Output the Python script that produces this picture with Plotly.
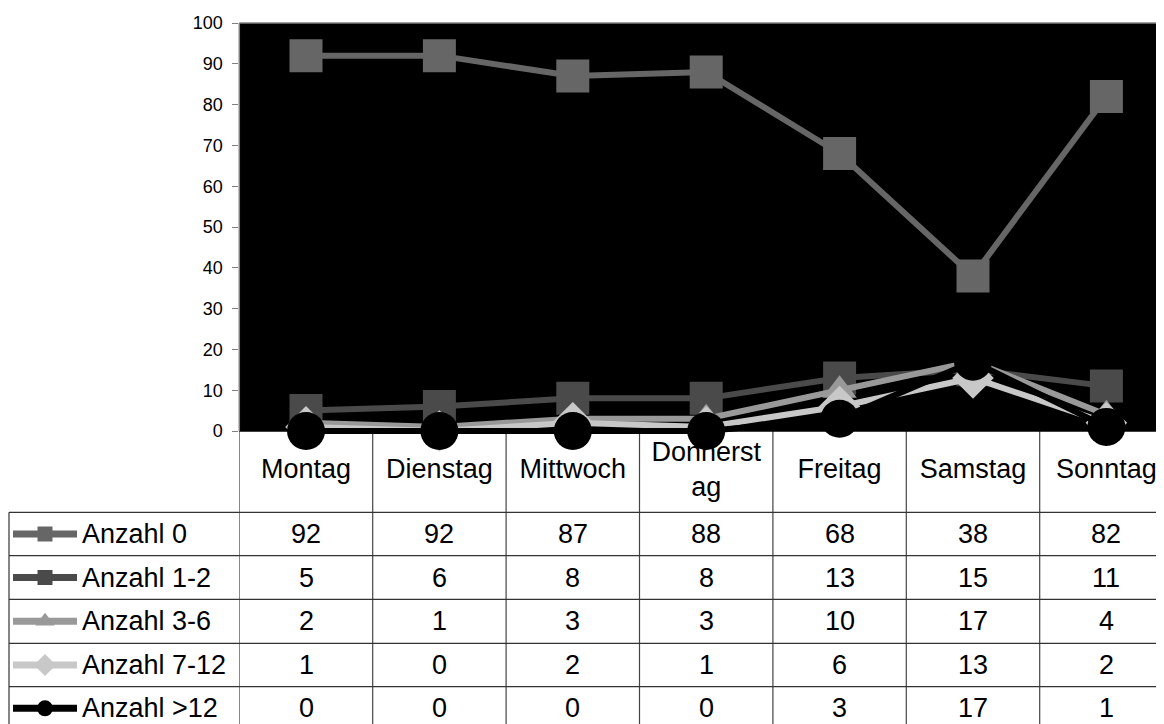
import plotly.graph_objects as go

# ---------------- data ----------------
days = ["Montag", "Dienstag", "Mittwoch", "Donnerstag", "Freitag", "Samstag", "Sonntag"]
day_labels = ["Montag", "Dienstag", "Mittwoch", "Donnerst<br>ag", "Freitag", "Samstag", "Sonntag"]
series_names = ["Anzahl 0", "Anzahl 1-2", "Anzahl 3-6", "Anzahl 7-12", "Anzahl >12"]
anzahl_0 = [92, 92, 87, 88, 68, 38, 82]
anzahl_1_2 = [5, 6, 8, 8, 13, 15, 11]
anzahl_3_6 = [2, 1, 3, 3, 10, 17, 4]
anzahl_7_12 = [1, 0, 2, 1, 6, 13, 2]
anzahl_gt12 = [0, 0, 0, 0, 3, 17, 1]
y_ticks = [0, 10, 20, 30, 40, 50, 60, 70, 80, 90, 100]
title_text = "(Tage der Woche)"

series_values = [anzahl_0, anzahl_1_2, anzahl_3_6, anzahl_7_12, anzahl_gt12]

# ---------------- styles / layout (screen pixels) ----------------
colors = ["#666666", "#4a4a4a", "#999999", "#c8c8c8", "#000000"]
symbols = ["square", "square", "triangle-up", "diamond", "circle"]
msizes = [33, 33, 30, 32, 38]
leg_msizes = [15, 15, 17, 17, 16]
FONT = "Liberation Sans, Arial, sans-serif"
TFS = 27

SW, SH = 1164, 724          # screen
OFF = 8                     # page body margin
W, H = SW - OFF, SH - OFF   # figure size

plot_left, plot_top, plot_bottom = 239.3, 23.0, 431.0
col_w = 133.4
x_max = -0.5 + (SW - plot_left) / col_w
px_per_unit = (plot_bottom - plot_top) / 100.0

header_bottom = 512.3
row_lines = [header_bottom, 555.7, 599.3, 643.3, 686.7, 730.0]
row_centers = [(row_lines[i] + row_lines[i + 1]) / 2 for i in range(5)]
table_left = 9.0
y_min = -(header_bottom - plot_bottom) / px_per_unit
header_center_units = -((plot_bottom + header_bottom) / 2 - plot_bottom) / px_per_unit
SCR_BOTTOM = OFF + H


def fy(sy):
    """screen y -> paper fraction"""
    return (H - (sy - OFF)) / H


fig = go.Figure()

# header texts (drawn under the markers, as in the reference)
fig.add_trace(go.Scatter(
    x=days, y=[header_center_units] * len(days), mode="text", text=day_labels,
    textposition="middle center", textfont=dict(family=FONT, size=TFS, color="#000"),
    cliponaxis=False, showlegend=False, hoverinfo="skip", xaxis="x", yaxis="y",
))

for name, vals, c, s, ms in zip(series_names, series_values, colors, symbols, msizes):
    fig.add_trace(go.Scatter(
        x=days, y=vals, name=name, mode="lines+markers",
        line=dict(color=c, width=6),
        marker=dict(symbol=s, size=ms, color=c, line=dict(width=0)),
        cliponaxis=False, showlegend=False, xaxis="x", yaxis="y",
        hoverinfo="x+y+name",
    ))

# legend keys inside the data table
for i, (c, s, ms) in enumerate(zip(colors, symbols, leg_msizes)):
    yc = row_centers[i]
    fig.add_trace(go.Scatter(
        x=[13, 77], y=[yc, yc], mode="lines",
        line=dict(color=c, width=7), showlegend=False, hoverinfo="skip",
        xaxis="x2", yaxis="y2",
    ))
    fig.add_trace(go.Scatter(
        x=[45], y=[yc], mode="markers",
        marker=dict(symbol=s, size=ms, color=c, line=dict(width=0)),
        showlegend=False, hoverinfo="skip", xaxis="x2", yaxis="y2",
    ))

shapes = []
shapes.append(dict(type="rect", xref="x domain", yref="y", x0=0, x1=1, y0=0, y1=100,
                   fillcolor="#000000", line=dict(width=0), layer="below"))
shapes.append(dict(type="line", xref="x2", yref="y2", x0=plot_left, x1=SW, y0=plot_top, y1=plot_top,
                   line=dict(color="#808080", width=1.5)))
shapes.append(dict(type="line", xref="x2", yref="y2", x0=plot_left, x1=plot_left, y0=plot_top, y1=plot_bottom,
                   line=dict(color="#808080", width=1.5)))
shapes.append(dict(type="line", xref="x2", yref="y2", x0=plot_left, x1=SW, y0=plot_bottom, y1=plot_bottom,
                   line=dict(color="#000000", width=1.5), layer="below"))
for yl in row_lines[:-1]:
    shapes.append(dict(type="line", xref="x2", yref="y2", x0=table_left, x1=SW, y0=yl, y1=yl,
                       line=dict(color="#333333", width=1.2), layer="below"))
shapes.append(dict(type="line", xref="x2", yref="y2", x0=table_left, x1=table_left,
                   y0=header_bottom, y1=SH, line=dict(color="#333333", width=1.2), layer="below"))
for k in range(len(days)):
    shapes.append(dict(type="line", xref="x", yref="y2", x0=k - 0.5, x1=k - 0.5,
                       y0=plot_bottom, y1=SH, line=dict(color="#444444", width=1.2), layer="below"))

annotations = []
for i, (name, vals) in enumerate(zip(series_names, series_values)):
    annotations.append(dict(x=80, y=row_centers[i], xref="x2", yref="y2", text=name,
                            showarrow=False, xanchor="left", yanchor="middle",
                            font=dict(family=FONT, size=TFS, color="#000")))
    for d, v in zip(days, vals):
        annotations.append(dict(x=d, y=row_centers[i], xref="x", yref="y2", text=str(v),
                                showarrow=False, xanchor="center", yanchor="middle",
                                font=dict(family=FONT, size=TFS, color="#000")))
annotations.append(dict(x=583, y=10, xref="x2", yref="y2", text="<b>" + title_text + "</b>",
                        showarrow=False, xanchor="center", yanchor="bottom",
                        font=dict(family=FONT, size=25, color="#000")))

fig.update_layout(
    template="none",
    width=W, height=H, autosize=False,
    margin=dict(l=0, r=0, t=0, b=0, pad=0, autoexpand=False),
    paper_bgcolor="#ffffff", plot_bgcolor="rgba(0,0,0,0)",
    showlegend=False,
    xaxis=dict(domain=[(plot_left - OFF) / W, 1], range=[-0.5, x_max], type="category",
               categoryorder="array", categoryarray=days, automargin=False,
               showticklabels=False, showgrid=False, zeroline=False, showline=False,
               ticks="", anchor="y", fixedrange=True),
    yaxis=dict(domain=[fy(header_bottom), fy(plot_top)], range=[y_min, 100],
               tickvals=y_ticks, showgrid=False, zeroline=False, automargin=False,
               showline=False,
               ticks="outside", ticklen=6, tickcolor="#808080", tickwidth=1,
               ticklabelstandoff=6,
               tickfont=dict(family=FONT, size=18, color="#000"),
               anchor="x", fixedrange=True),
    xaxis2=dict(domain=[0, 1], range=[OFF, SW], visible=False, anchor="y2",
                automargin=False, fixedrange=True),
    yaxis2=dict(domain=[0, 1], range=[SCR_BOTTOM, OFF], visible=False, anchor="x2",
                automargin=False, fixedrange=True),
    shapes=shapes, annotations=annotations,
)

fig.write_html("out.html")
